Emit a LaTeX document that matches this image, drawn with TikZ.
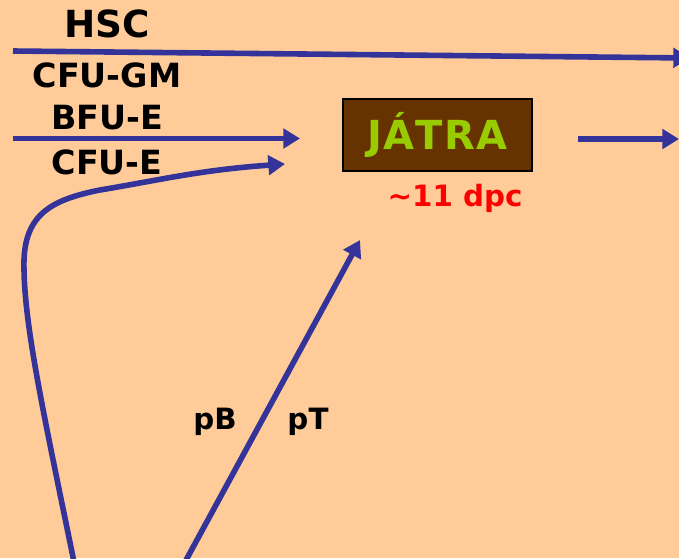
\documentclass[tikz,border=0pt]{standalone}
\usepackage{fontspec}
\setmainfont{DejaVu Sans}
\usetikzlibrary{arrows.meta}
\definecolor{bgpeach}{HTML}{FFCC99}
\definecolor{arrblue}{HTML}{333399}
\definecolor{liverbrown}{HTML}{663300}
\definecolor{livergreen}{HTML}{99CC00}
\tikzset{
  conn/.style={draw=arrblue, line width=4.2pt, -{Triangle[length=12.5pt,width=14.5pt]}},
  bigtxt/.style={font=\bfseries\fontsize{28}{30}\selectfont, text=black, inner sep=0pt},
  midtxt/.style={font=\bfseries\fontsize{25}{27}\selectfont, text=black, inner sep=0pt},
  lbltxt/.style={font=\bfseries\fontsize{22}{24}\selectfont, text=black, inner sep=0pt},
  organ/.style={draw=black, line width=2pt, fill=liverbrown, text=livergreen,
    font=\bfseries\fontsize{30}{32}\selectfont, minimum width=141.75pt, minimum height=54pt, inner sep=0pt},
}
\begin{document}
\begin{tikzpicture}[x=0.75pt, y=-0.75pt]
\fill[bgpeach] (0,0) rectangle (679,558);
\useasboundingbox (0,0) rectangle (679,558);
\clip (0,0) rectangle (679,558);
% labels
\node[bigtxt] (hsc) at (107,24) {HSC};
\node[midtxt] (cfugm) at (107,75) {CFU-GM};
\node[midtxt] (bfue) at (107,118) {BFU-E};
\node[midtxt] (cfue) at (107,162) {CFU-E};
% liver box
\node[organ] (liver) at (437.5,135) {J\kern1pt Á\kern1pt T\kern1pt R\kern1pt A};
\node[font=\bfseries\fontsize{22}{24}\selectfont, text=red, inner sep=0pt] (dpc) at (455,198) {\textasciitilde 11 dpc};
\node[lbltxt] (pb) at (215,422) {pB};
\node[lbltxt] (pt) at (308,422) {pT};
% coordinates
\coordinate (l1s) at (13,51);
\coordinate (l1e) at (690,58);
\coordinate (l2s) at (13,138.5);
\coordinate (l2e) at (300,138.5);
\coordinate (c0) at (74,562);
\coordinate (c1) at (24,270);
\coordinate (c2) at (100,190);
\coordinate (c3) at (285,164);
\coordinate (s0) at (185,562);
\coordinate (s1) at (360,240);
\coordinate (r0) at (578,139);
\coordinate (r1) at (679,139);
% connectors
\draw[conn] (l1s) -- (l1e);
\draw[conn] (l2s) -- (l2e);
\draw[conn] (c0) .. controls (45,420) and (25,330) .. (c1)
  .. controls (22,215) and (50,200) .. (c2)
  .. controls (160,180) and (200,170) .. (c3);
\draw[conn] (s0) -- (s1);
\draw[conn] (r0) -- (r1);
\end{tikzpicture}
\end{document}
